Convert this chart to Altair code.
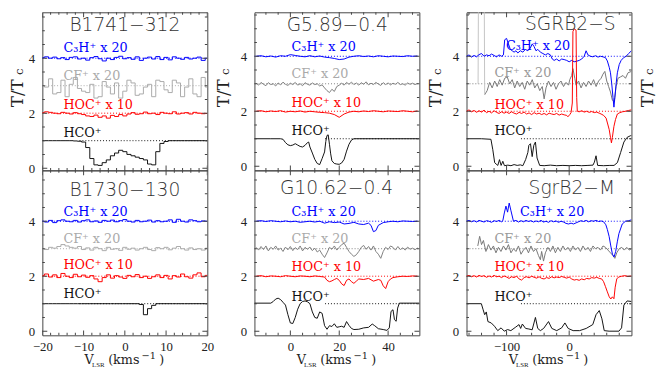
import altair as alt
import pandas as pd

# ---------------- velocity grids (km/s) ----------------
V_B = list(range(-20, 21))
V_G1 = list(range(-14, 53))
V_G2 = list(range(-14, 53, 2))

# ---------------- B1741-312 ----------------
B1741_HCO = [1.0, 1.0, 1.0, 1.0, 1.0, 1.0, 1.0, 1.0, 0.99, 0.98,
             0.95, 0.75, 0.35, 0.12, 0.10, 0.20, 0.30, 0.45, 0.55, 0.65,
             0.60, 0.50, 0.45, 0.40, 0.35, 0.30, 0.15, 0.12, 0.60, 0.90,
             0.97, 1.0, 1.0, 1.0, 1.0, 1.0, 1.0, 1.0, 1.0, 1.0, 1.0]
B1741_HOC = [2.02, 2.05, 2.03, 2.00, 1.98, 2.03, 2.00, 1.97, 2.02, 1.98,
             1.95, 1.90, 1.88, 1.93, 1.85, 1.90, 1.82, 1.92, 1.88, 1.95,
             1.90, 1.97, 2.02, 1.96, 1.98, 2.04, 1.98, 2.00, 1.95, 2.03,
             2.00, 1.98, 2.05, 1.97, 2.00, 2.02, 1.97, 2.03, 2.00, 1.98, 1.99]
B1741_CF = [3.00, 2.95, 3.25, 2.70, 2.75, 3.20, 2.60, 3.05, 3.30, 2.90,
            2.80, 2.75, 3.05, 2.55, 2.60, 3.15, 2.95, 2.70, 3.10, 2.55,
            2.80, 3.20, 3.10, 2.65, 2.70, 2.95, 3.05, 2.60, 3.20, 3.15,
            2.85, 2.75, 3.20, 3.10, 2.60, 2.95, 3.25, 2.70, 2.60, 3.30, 2.95]
B1741_C3H = [4.02, 4.05, 4.00, 4.04, 3.98, 4.02, 3.95, 4.03, 4.05, 3.97,
             4.00, 3.93, 4.02, 4.06, 3.98, 3.90, 4.00, 3.95, 4.03, 4.07,
             3.98, 4.02, 3.96, 4.05, 3.92, 4.00, 4.04, 3.97, 4.06, 3.95,
             4.03, 3.94, 4.05, 4.00, 3.96, 4.03, 3.97, 4.00, 4.04, 3.92, 4.00]

# ---------------- B1730-130 ----------------
B1730_HCO = [1.0, 1.0, 1.0, 1.0, 1.0, 1.0, 1.0, 1.0, 1.0, 1.0,
             1.0, 1.0, 1.0, 1.0, 1.0, 1.0, 1.0, 1.0, 1.0, 1.0,
             1.0, 1.0, 1.0, 1.0, 0.97, 0.60, 0.82, 0.94, 1.0, 1.0,
             1.0, 1.0, 1.0, 1.0, 1.0, 1.0, 1.0, 1.0, 1.0, 1.0, 1.0]
B1730_HOC = [2.02, 2.08, 1.97, 2.05, 1.95, 2.10, 2.00, 1.95, 2.07, 1.98,
             2.04, 1.96, 2.02, 1.90, 1.80, 1.95, 2.05, 1.93, 2.02, 1.97,
             1.92, 2.03, 1.98, 2.06, 1.95, 2.00, 1.92, 1.98, 2.05, 1.95,
             2.03, 1.90, 2.02, 1.97, 2.08, 1.98, 1.93, 2.05, 2.12, 1.98, 2.03]
B1730_CF = [3.00, 2.97, 3.05, 3.02, 3.08, 3.15, 3.10, 3.05, 3.02, 3.08,
            2.97, 3.03, 2.95, 3.05, 3.00, 2.93, 3.05, 2.98, 3.00, 2.94,
            3.05, 2.98, 3.02, 2.95, 3.00, 3.05, 2.97, 2.93, 3.04, 3.00,
            3.05, 2.96, 3.02, 3.08, 3.00, 2.95, 3.03, 2.97, 3.00, 2.95, 3.02]
B1730_C3H = [4.00, 3.97, 4.03, 3.95, 4.02, 4.05, 4.00, 3.98, 4.03, 3.97,
             4.02, 4.05, 3.98, 4.01, 3.96, 4.03, 4.00, 4.04, 3.98, 4.02,
             4.06, 4.00, 3.97, 4.03, 3.98, 4.00, 4.04, 3.97, 4.02, 3.98,
             4.00, 4.05, 3.96, 4.07, 4.00, 3.97, 4.05, 4.02, 3.98, 4.01, 4.00]

# ---------------- G5.89-0.4 ----------------
G589_HCO_V = [-14.7, -8, -4, -3, -2, -1, 0, 1, 2, 3, 4, 5, 6, 7, 7.5, 8, 9, 10, 11, 12,
              13, 14, 14.5, 15, 15.5, 16, 16.5, 17, 18, 19, 20, 21, 22, 23, 24, 25, 26, 35, 52.8]
G589_HCO = [1.0, 1.0, 1.0, 0.98, 0.86, 0.78, 0.75, 0.77, 0.82, 0.77, 0.72, 0.70, 0.76, 0.86, 0.88,
            0.70, 0.48, 0.25, 0.10, 0.06, 0.28, 0.52, 0.90, 1.12, 1.14, 0.80, 0.45, 0.20, 0.10,
            0.08, 0.07, 0.12, 0.25, 0.55, 0.80, 0.95, 1.0, 1.0, 1.0]
G589_HOC = [2.00, 2.02, 1.98, 2.01, 1.99, 2.02, 1.97, 2.00, 1.98, 2.01, 1.97, 2.00, 1.98, 1.96,
            1.95, 1.93, 1.88, 1.78, 1.90, 1.97, 2.00, 1.98, 2.01, 1.99, 2.02, 2.00, 1.98, 2.01,
            2.00, 1.99, 2.02, 2.00, 1.98, 2.01]
G589_CF = [3.02, 2.95, 3.05, 2.98, 2.93, 3.04, 2.97, 3.00, 2.92, 3.03,
           2.96, 3.06, 2.98, 2.94, 3.02, 2.97, 3.05, 2.95, 3.00, 2.93,
           3.04, 2.98, 2.95, 3.03, 2.97, 3.00, 2.92, 2.96, 2.85, 2.75,
           2.68, 2.80, 2.72, 2.90, 2.95, 3.02, 2.95, 3.05, 2.98, 3.06,
           2.97, 3.03, 2.95, 3.04, 2.98, 3.07, 2.96, 3.02, 2.97, 3.05,
           2.99, 2.94, 3.04, 2.97, 3.03, 2.96, 3.02, 2.98, 3.05, 2.97,
           3.00, 2.95, 3.03, 2.98, 3.02, 2.97, 3.01]
G589_C3H = [4.00, 4.02, 3.98, 4.01, 3.97, 4.02, 4.00, 4.06, 4.03, 4.00, 3.98, 4.02, 3.98, 4.01,
            3.97, 3.95, 3.92, 3.88, 3.90, 3.97, 4.00, 4.02, 3.99, 4.01, 3.98, 4.02, 4.00, 3.98,
            4.01, 4.00, 3.99, 4.02, 4.00, 4.01]

# ---------------- G10.62-0.4 ----------------
G1062_HCO_V = [-14.7, -8, -7, -6, -5, -4, -3, -2, -1, 0, 1, 2, 3, 4, 5, 6, 7, 8, 9, 10, 11, 12, 13,
               14, 15, 16, 17, 18, 19, 20, 21, 22, 23, 24, 25, 26, 28, 30, 32, 33.5, 34.5, 36, 38,
               39.5, 40.5, 41.2, 42, 42.6, 43.3, 43.9, 44.6, 52.8]
G1062_HCO = [1.02, 1.02, 1.08, 1.17, 1.20, 1.15, 1.05, 0.95, 0.60, 0.30, 0.28, 0.50, 0.80, 1.00,
             1.08, 1.10, 1.07, 1.00, 0.70, 0.50, 0.47, 0.70, 0.65, 0.20, 0.07, 0.20, 0.17, 0.27,
             0.14, 0.16, 0.18, 0.14, 0.35, 0.21, 0.10, 0.06, 0.07, 0.12, 0.14, 0.26, 0.20, 0.09,
             0.06, 0.03, 0.12, 0.72, 0.78, 0.42, 0.36, 0.84, 1.02, 1.02]
G1062_HOC_V = [-14, -12, -10, -8, -6, -4, -2, 0, 2, 4, 6, 8, 10, 12, 14, 15, 16, 17, 18, 19,
               20, 21, 22, 23, 24, 25, 26, 27, 28, 30, 32, 34, 36, 37, 38, 39, 40, 41, 42, 44,
               46, 48, 50, 52]
G1062_HOC = [2.00, 2.02, 1.98, 2.01, 2.00, 1.98, 2.02, 2.00, 1.98, 2.01,
             2.00, 1.98, 2.01, 1.99, 1.97, 1.85, 1.80, 1.83, 1.88, 1.92,
             1.85, 1.72, 1.66, 1.85, 1.90, 1.80, 1.74, 1.82, 1.90, 1.88,
             1.92, 1.82, 1.88, 1.85, 1.65, 1.55, 1.80, 1.90, 1.95, 1.98,
             2.00, 1.99, 2.01, 2.00]
G1062_CF = [3.05, 2.95, 3.08, 2.97, 3.10, 2.92, 3.05, 2.98, 3.10, 2.95,
            3.02, 2.90, 3.06, 2.96, 3.08, 2.93, 3.04, 2.97, 3.10, 2.92,
            3.05, 2.98, 3.06, 2.93, 3.02, 2.88, 2.95, 2.80, 2.68, 2.85,
            3.05, 2.98, 3.10, 2.95, 3.05, 3.15, 3.20, 3.05, 2.90, 2.80,
            2.72, 2.78, 2.90, 3.05, 3.12, 2.98, 3.08, 2.95, 3.10, 2.90,
            2.80, 2.65, 2.90, 3.05, 2.97, 3.10, 3.05, 2.95, 3.08, 2.97,
            3.03, 2.95, 3.06, 2.98, 3.02, 2.96, 3.03]
G1062_C3H_V = [-14, -12, -10, -8, -6, -4, -2, 0, 2, 4, 6, 8, 10, 12, 14, 16, 18, 20, 22, 24,
               26, 28, 30, 32, 33, 34, 35, 36, 38, 40, 42, 44, 46, 48, 50, 52]
G1062_C3H = [4.00, 4.02, 3.99, 4.02, 4.00, 3.98, 4.01, 3.98, 4.00, 3.96,
             3.98, 4.00, 3.97, 4.00, 3.93, 3.98, 3.95, 3.97, 3.90, 3.92,
             3.96, 3.90, 3.88, 3.93, 3.85, 3.62, 3.66, 3.85, 3.95, 3.98,
             4.00, 3.98, 4.01, 4.00, 3.99, 4.00]

# ---------------- SGRB2-S ----------------
SB2S_HCO_V = [-164, -140, -125, -122, -119, -116.7, -114, -111.3, -108.7, -106,
              -103.4, -98, -93, -88, -83, -78, -74, -69.6, -66, -64.4,
              -61.8, -59.1, -56.5, -53.9, -51.3, -47.1, -40, -30, -20, -10,
              0, 10, 20, 30, 38, 40.3, 42.9, 45.5, 55, 65,
              71.7, 77, 82.2, 87.4, 92.6, 97.9, 99.5]
SB2S_HCO = [1.0, 1.0, 0.98, 0.60, 0.13, 0.08, 0.03, 0.24, 0.03, 0.18,
            0.02, 0.04, 0.02, 0.06, 0.03, 0.05, 0.02, 0.24, 0.50, 0.76,
            0.82, 0.35, 0.76, 0.88, 0.30, 0.03, 0.02, 0.04, 0.02, 0.03,
            0.02, 0.03, 0.02, 0.03, 0.04, 0.15, 0.38, 0.03, 0.02, 0.03,
            0.03, 0.13, 0.50, 0.88, 1.05, 1.11, 1.12]
SB2S_C3H_V = [-164, -160, -156, -152, -148, -144, -140, -136, -132, -128,
              -124, -120, -116, -112, -108, -105, -103, -100, -97, -94,
              -91, -88, -85, -82, -78, -74, -70, -66, -62, -59,
              -56, -53, -50, -46, -42, -38, -34, -30, -27, -24,
              -20, -16, -12, -8, -4, 0, 4, 8, 12, 16,
              20, 24, 27, 30, 34, 38, 42, 46, 50, 54,
              58, 61, 64, 66, 68, 70, 71.5, 73, 75, 77,
              80, 83, 87, 91, 95, 99.5]
SB2S_C3H = [4.00, 4.05, 3.97, 4.03, 3.98, 4.06, 4.10, 4.00, 4.05, 4.02,
            4.08, 4.03, 3.98, 4.05, 4.00, 4.05, 4.60, 4.65, 4.45, 4.25,
            4.20, 4.15, 4.20, 4.12, 4.20, 4.15, 4.25, 4.20, 4.30, 4.45,
            4.35, 4.20, 4.25, 4.15, 4.10, 4.05, 4.10, 4.05, 3.90, 3.85,
            3.90, 3.83, 3.90, 3.88, 3.85, 3.80, 3.85, 3.80, 3.82, 3.85,
            3.90, 4.00, 4.20, 4.05, 4.00, 3.98, 4.02, 3.97, 4.00, 3.98,
            3.95, 3.83, 3.60, 3.40, 3.00, 2.50, 2.15, 2.50, 3.00, 3.40,
            3.70, 3.85, 3.95, 4.00, 4.10, 4.20]
SB2S_CF_V = [-135, -131, -127, -123, -119, -115, -111, -107, -103, -99,
             -95, -91, -87, -83, -79, -75, -71, -67, -63, -59,
             -55, -51, -47, -43, -40, -37, -33, -29, -25, -21,
             -17, -13, -9, -5, -1, 1, 4, 6, 9, 11,
             15, 19, 23, 27, 31, 35, 39, 43, 47, 51,
             54, 57, 60, 63, 66, 69, 72, 75, 78, 82,
             86, 90, 94, 99.5]
SB2S_CF = [2.60, 2.75, 3.05, 2.85, 3.10, 2.90, 3.15, 2.95, 3.20, 3.25,
           3.00, 3.15, 2.85, 3.10, 2.90, 3.05, 2.80, 3.10, 2.95, 3.15,
           2.85, 3.00, 2.75, 2.90, 2.45, 2.85, 3.10, 2.90, 3.05, 2.80,
           3.00, 3.10, 2.90, 3.05, 2.95, 3.15, 3.30, 3.55, 3.20, 2.95,
           3.10, 2.85, 3.05, 2.90, 3.10, 2.95, 3.15, 2.90, 3.10, 3.20,
           3.35, 3.45, 3.10, 2.90, 2.70, 2.40, 2.35, 2.90, 3.20, 3.25,
           3.30, 3.20, 3.40, 3.45]
SB2S_CFSPIKE_V = [-145.5, -144.8, -135.8, -135]
SB2S_CFSPIKE = [3.0, 7.0, 7.0, 2.6]
SB2S_HOC_V = [-164, -160, -156, -152, -148, -144, -140, -136, -132, -128,
              -124, -120, -116, -112, -108, -104, -100, -96, -92, -88,
              -84, -80, -76, -72, -68, -64, -60, -56, -52, -48,
              -44, -40, -36, -32, -28, -24, -20, -16, -12, -8,
              -4, -2, 1, 3, 5, 6, 8, 11, 12, 13,
              16, 20, 24, 28, 32, 36, 40, 44, 48, 51,
              55, 59, 62, 64, 66, 67.5, 69, 71.5, 74, 77,
              81, 85, 90, 95, 99.5]
SB2S_HOC = [2.00, 2.05, 1.98, 2.03, 1.96, 2.02, 1.97, 2.04, 1.95, 2.00,
            1.94, 2.02, 1.96, 1.92, 1.98, 1.93, 1.97, 1.92, 1.98, 1.93,
            1.90, 1.96, 1.92, 1.97, 1.90, 1.94, 1.88, 1.95, 1.90, 1.93,
            1.88, 1.92, 1.87, 1.93, 1.90, 1.88, 1.92, 1.86, 1.90, 1.87,
            1.85, 1.80, 1.88, 1.95, 2.30, 4.90, 5.00, 4.95, 2.50, 2.00,
            1.98, 2.02, 1.97, 2.00, 1.96, 1.99, 1.95, 1.97, 1.93, 1.90,
            1.85, 1.75, 1.50, 1.33, 1.05, 0.85, 1.05, 1.45, 1.70, 1.90,
            1.95, 1.98, 2.00, 2.03, 2.05]

# ---------------- SgrB2-M ----------------
SB2M_HCO_V = [-164, -140.3, -137.7, -135, -132.4, -129.8, -124.5, -119.3, -114.1, -108.8,
              -103.6, -98.4, -93.2, -85.3, -80.1, -77.5, -74.8, -69.6, -64.4, -59.1,
              -53.9, -50.2, -46, -40.8, -33, -27.7, -19.9, -12, -6.8, -1.6,
              6.3, 16.7, 27.2, 37.7, 42.9, 48.1, 52.3, 56, 63.8, 79.5,
              83.7, 87.4, 92.6, 99.5]
SB2M_HCO = [1.0, 1.0, 0.80, 0.60, 0.70, 0.35, 0.30, 0.18, 0.02, 0.12,
            0.0, 0.06, 0.02, 0.15, 0.24, 0.10, 0.26, 0.10, 0.08, 0.05,
            0.50, 0.10, 0.02, 0.10, 0.35, 0.10, 0.02, 0.12, 0.30, 0.10,
            0.02, 0.02, 0.10, 0.24, 0.60, 0.75, 0.45, 0.02, 0.0, 0.0,
            0.12, 0.95, 1.10, 1.08]
SB2M_C3H_V = [-164, -160, -156, -152, -148, -144, -140, -136, -132, -128,
              -124, -120, -116, -112, -108, -106, -103.6, -101, -98.4, -95.8,
              -93.2, -89, -85, -81, -77, -73, -69, -65, -61, -57,
              -53, -49, -45, -41, -37, -33, -29, -25, -21, -17,
              -13, -9, -5, -1, 3, 7, 11, 15, 19, 23,
              27, 31, 35, 39, 43, 47, 51, 55, 58.6, 61,
              63.8, 66.5, 69.1, 71.7, 74.3, 76.9, 79.5, 84.8, 90, 95,
              99.5]
SB2M_C3H = [4.00, 4.03, 3.98, 4.02, 3.97, 4.03, 4.00, 3.97, 4.02, 4.00,
            3.96, 4.02, 3.99, 4.03, 3.98, 4.02, 4.30, 4.55, 4.33, 4.66,
            4.40, 4.00, 4.03, 3.97, 4.02, 3.98, 4.03, 3.99, 4.02, 3.97,
            4.01, 3.98, 4.03, 3.97, 4.00, 3.96, 4.02, 3.98, 4.01, 3.96,
            4.00, 3.97, 3.92, 3.90, 3.93, 3.90, 3.94, 3.98, 4.02, 3.99,
            4.03, 3.98, 4.02, 4.00, 4.03, 3.99, 4.01, 3.98, 3.87, 3.70,
            3.45, 3.10, 2.80, 2.70, 2.90, 3.25, 3.55, 3.90, 4.00, 4.02,
            4.05]
SB2M_CF_V = [-146, -143, -140, -137, -133, -129, -125, -121, -117, -113,
             -109, -105, -101, -97, -93, -89, -85, -81, -77, -73,
             -69, -65, -61, -57, -53, -49, -46, -44, -41, -38,
             -34, -30, -26, -22, -18, -14, -10, -6, -2, 2,
             6, 10, 14, 18, 22, 26, 30, 34, 38, 42,
             46, 50, 54, 58, 62, 66, 70, 73, 76, 80,
             84, 88, 92, 96, 99.5]
SB2M_CF = [3.10, 3.45, 3.15, 3.30, 2.90, 3.15, 2.95, 3.10, 2.85, 3.05,
           2.90, 3.10, 2.95, 3.15, 2.85, 3.00, 2.90, 3.10, 2.80, 2.95,
           3.05, 2.85, 3.10, 2.90, 3.00, 2.75, 2.60, 2.90, 2.55, 2.85,
           3.05, 2.90, 3.10, 2.85, 3.05, 2.90, 3.10, 2.95, 3.05, 2.90,
           3.10, 2.95, 3.05, 2.90, 3.10, 2.95, 3.05, 2.90, 3.10, 3.00,
           3.05, 2.95, 3.10, 3.05, 2.95, 2.85, 2.75, 2.65, 2.85, 3.00,
           3.05, 2.95, 3.05, 2.95, 3.00]
SB2M_HOC_V = [-164, -160, -156, -152, -148, -144, -140, -136, -132, -128,
              -124, -120, -116, -112, -108, -104, -100, -96, -92, -88,
              -84, -80, -76, -72, -68, -64, -60, -56, -52, -48,
              -44, -40, -36, -32, -28, -24, -20, -16, -12, -8,
              -4, 0, 4, 8, 12, 16, 20, 24, 28, 32,
              36, 40, 44, 48, 52, 55, 58, 61, 64, 66.5,
              69, 71.5, 73.5, 76, 79, 84, 89, 94, 99.5]
SB2M_HOC = [2.00, 2.03, 1.98, 2.02, 1.97, 2.03, 1.99, 2.02, 1.96, 2.01,
            1.97, 2.03, 1.98, 2.00, 1.95, 2.01, 1.97, 1.92, 1.98, 1.95,
            2.00, 1.90, 1.86, 1.95, 1.98, 1.94, 2.00, 1.96, 1.93, 1.98,
            1.92, 1.90, 1.95, 1.92, 1.98, 1.94, 1.97, 1.95, 1.99, 1.96,
            1.93, 1.97, 1.90, 1.86, 1.88, 1.85, 1.90, 1.87, 1.92, 1.90,
            1.95, 1.93, 1.96, 1.92, 1.90, 1.80, 1.62, 1.43, 1.25, 1.17,
            1.25, 1.18, 1.60, 1.90, 1.97, 2.00, 2.02, 1.99, 2.01]

# ---------------- labels / ticks ----------------
SPECIES_LABELS = ["C₃H⁺ x 20", "CF⁺ x 20", "HOC⁺ x 10", "HCO⁺"]
Y_LABELS = [0, 2, 4]
Y_TICKS = [0, 0.5, 1, 1.5, 2, 2.5, 3, 3.5, 4, 4.5, 5, 5.5]
BASE_LEVELS = [1, 2, 3, 4]

# ---------------- style ----------------
FRAME = "#444444"
AXIS_TXT = "#222222"
BLUE = "#0000ff"
RED = "#ff0000"
BLACK = "#111111"
SPIKE = "#c4c4c4"
LABEL_FONT = "DejaVu Serif"
TICK_FONT = "Liberation Serif"
TITLE_FONT = "DejaVu Sans"
W = 168
H_TOP = 161
H_BOT = 168

COLS = [
    dict(xdom=[-20, 20], xlab=[-20, -10, 0, 10, 20], xmin=list(range(-20, 21, 2)),
         xmaj=[-20, -10, 0, 10, 20], interp="step", cf="#aaaaaa", cflab="#aaaaaa", ytx=-20),
    dict(xdom=[-14.7, 52.8], xlab=[0, 20, 40], xmin=list(range(-10, 51, 5)),
         xmaj=[0, 20, 40], interp="linear", cf="#808080", cflab="#aaaaaa", ytx=-25.5),
    dict(xdom=[-164, 99.5], xlab=[-100, 0], xmin=list(range(-160, 81, 20)),
         xmaj=[-100, 0], interp="linear", cf="#777777", cflab="#999999", ytx=-25.5),
]

PANELS = [
    [dict(title="B1741−312", tv=0, tT=5.0, talign="center", ydom=[-0.08, 5.67],
          labv=[-14.9] * 4, labT=[4.23, 3.22, 2.16, 1.15], hdot=-11,
          series=[(V_B, B1741_CF, "cf"), (V_B, B1741_HOC, "hoc"), (V_B, B1741_C3H, "c3h"),
                  (V_B, B1741_HCO, "hco")]),
     dict(title="B1730−130", tv=0, tT=4.92, talign="center", ydom=[-0.15, 5.85],
          labv=[-14.9] * 4, labT=[4.19, 3.21, 2.25, 1.22], hdot=-11,
          series=[(V_B, B1730_CF, "cf"), (V_B, B1730_HOC, "hoc"), (V_B, B1730_C3H, "c3h"),
                  (V_B, B1730_HCO, "hco")])],
    [dict(title="G5.89−0.4", tv=19.2, tT=4.93, talign="center", ydom=[-0.15, 5.6],
          labv=[0.5] * 4, labT=[4.18, 3.2, 2.17, 1.12], hdot=14.2,
          series=[(V_G1, G589_CF, "cf"), (V_G2, G589_HOC, "hoc"), (V_G2, G589_C3H, "c3h"),
                  (G589_HCO_V, G589_HCO, "hco")]),
     dict(title="G10.62−0.4", tv=18.9, tT=4.98, talign="center", ydom=[-0.15, 5.85],
          labv=[0.5] * 4, labT=[4.18, 3.2, 2.18, 1.11], hdot=14.2,
          series=[(V_G1, G1062_CF, "cf"), (G1062_HOC_V, G1062_HOC, "hoc"),
                  (G1062_C3H_V, G1062_C3H, "c3h"), (G1062_HCO_V, G1062_HCO, "hco")])],
    [dict(title="SGRB2−S", tv=74.3, tT=4.95, talign="right", ydom=[-0.15, 5.6],
          labv=[-101, -119.3, -119.3, -119.3], labT=[4.24, 3.24, 2.1, 1.12], hdot=-77,
          series=[(SB2S_CF_V, SB2S_CF, "cf"), (SB2S_CFSPIKE_V, SB2S_CFSPIKE, "spike"),
                  (SB2S_C3H_V, SB2S_C3H, "c3h"), (SB2S_HOC_V, SB2S_HOC, "hoc"),
                  (SB2S_HCO_V, SB2S_HCO, "hco")]),
     dict(title="SgrB2−M", tv=73.3, tT=4.98, talign="right", ydom=[-0.15, 5.85],
          labv=[-78.5, -119.3, -119.3, -119.3], labT=[4.2, 3.22, 2.18, 1.11], hdot=-77,
          series=[(SB2M_CF_V, SB2M_CF, "cf"), (SB2M_HOC_V, SB2M_HOC, "hoc"),
                  (SB2M_C3H_V, SB2M_C3H, "c3h"), (SB2M_HCO_V, SB2M_HCO, "hco")])],
]


def piece(s, x, y, size, font, angle=0, align="left", color=AXIS_TXT):
    df = pd.DataFrame({"s": [s]})
    return alt.Chart(df).mark_text(font=font, fontSize=size, angle=angle, align=align,
                                   baseline="alphabetic", color=color).encode(
        text="s:N", x=alt.value(x), y=alt.value(y))


def build_panel(ci, row, p):
    c = COLS[ci]
    H = H_TOP if row == 0 else H_BOT
    xs = alt.Scale(domain=c["xdom"], nice=False, zero=False)
    ys = alt.Scale(domain=p["ydom"], nice=False, zero=False)
    yaxis = alt.Axis(values=Y_LABELS, format="d", grid=False, domain=False, ticks=False,
                     labelFont=TICK_FONT, labelFontSize=13, labelColor=AXIS_TXT, labelPadding=8)
    if row == 1:
        xaxis = alt.Axis(values=c["xlab"], format="d", grid=False, domain=False, ticks=False,
                         labelFont=TICK_FONT, labelFontSize=13, labelColor=AXIS_TXT,
                         labelPadding=5, labelFlush=False, labelOverlap=False)
    else:
        xaxis = None

    def X(f):
        return alt.X(f + ":Q", scale=xs, axis=xaxis, title=None)

    def Y(f):
        return alt.Y(f + ":Q", scale=ys, axis=yaxis, title=None)

    colors = {"cf": c["cf"], "spike": SPIKE, "hoc": RED, "c3h": BLUE, "hco": BLACK}
    layers = []
    x0, x1 = c["xdom"]
    dots = pd.DataFrame({"T": BASE_LEVELS, "a": [p["hdot"], x0, x0, x0], "b": [x1] * 4,
                         "c": [BLACK, RED, c["cf"], BLUE]})
    layers.append(alt.Chart(dots).mark_rule(strokeDash=[1, 2], strokeWidth=1, clip=True).encode(
        x=X("a"), x2="b:Q", y=Y("T"), color=alt.Color("c:N", scale=None)))
    for v, t, key in p["series"]:
        df = pd.DataFrame({"v": v, "T": t})
        layers.append(alt.Chart(df).mark_line(color=colors[key], strokeWidth=1,
                                              interpolate=c["interp"], clip=True).encode(
            x=X("v"), y=Y("T")))
    labs = pd.DataFrame({"v": p["labv"], "T": p["labT"], "txt": SPECIES_LABELS,
                         "c": [BLUE, c["cflab"], RED, BLACK]})
    layers.append(alt.Chart(labs).mark_text(align="left", baseline="alphabetic", font=LABEL_FONT,
                                            fontSize=13).encode(
        x=X("v"), y=Y("T"), text="txt:N", color=alt.Color("c:N", scale=None)))
    tdf = pd.DataFrame({"v": [p["tv"]], "T": [p["tT"]], "txt": [p["title"]]})
    layers.append(alt.Chart(tdf).mark_text(align=p["talign"], baseline="alphabetic", font=TITLE_FONT,
                                           fontSize=19, fontWeight=300, color="#333333").encode(
        x=X("v"), y=Y("T"), text="txt:N"))
    # inward ticks on all four sides
    xt = pd.DataFrame({"v": c["xmin"], "len": [10 if v in c["xmaj"] else 5 for v in c["xmin"]]})
    yt = pd.DataFrame({"T": Y_TICKS, "len": [10 if t in Y_LABELS else 5 for t in Y_TICKS]})
    for ypos in (0, H):
        layers.append(alt.Chart(xt).mark_tick(orient="vertical", thickness=1, color=FRAME,
                                              opacity=1, clip=True).encode(
            x=X("v"), y=alt.value(ypos), size=alt.Size("len:Q", scale=None)))
    for xpos in (0, W):
        layers.append(alt.Chart(yt).mark_tick(orient="horizontal", thickness=1, color=FRAME,
                                              opacity=1, clip=True).encode(
            y=Y("T"), x=alt.value(xpos), size=alt.Size("len:Q", scale=None)))
    # y title on the upper panels
    if row == 0:
        layers.append(piece("T/T", c["ytx"], 82.5, 17, LABEL_FONT, angle=270, align="center"))
        layers.append(piece("c", c["ytx"], 60.5, 12, LABEL_FONT, angle=270, align="center"))
        if ci == 2:
            layers.append(piece("T/T", W + 21.5, 82.5, 17, LABEL_FONT, angle=270, align="center"))
            layers.append(piece("c", W + 21.5, 60.5, 12, LABEL_FONT, angle=270, align="center"))
    else:
        cx = W / 2
        layers.append(piece("V", cx - 41, 197.5, 13, LABEL_FONT))
        layers.append(piece("LSR", cx - 33.5, 200, 7, TICK_FONT))
        layers.append(piece("(kms", cx - 17, 197.5, 13, LABEL_FONT))
        layers.append(piece("−1", cx + 17, 192, 10, LABEL_FONT))
        layers.append(piece(")", cx + 35, 197.5, 13, LABEL_FONT))
    if ci < 2:
        # invisible marker fixing the right-hand extent of the panel for the column layout
        layers.append(alt.Chart(pd.DataFrame({"k": [0]})).mark_rule(strokeOpacity=0).encode(
            x=alt.value(W + 6), y=alt.value(10), y2=alt.value(20)))
    return alt.layer(*layers).properties(width=W, height=H)


columns = []
for ci in range(3):
    top = build_panel(ci, 0, PANELS[ci][0])
    bot = build_panel(ci, 1, PANELS[ci][1])
    columns.append(alt.vconcat(top, bot, spacing=0, bounds="flush"))

chart = alt.hconcat(*columns, spacing=1).resolve_scale(
    x="independent", y="independent").properties(
    padding={"left": 0, "top": 0, "right": 0, "bottom": 0}
).configure_view(stroke=FRAME, strokeWidth=1)

chart.save("out.html", embed_options={"renderer": "svg", "actions": False})
